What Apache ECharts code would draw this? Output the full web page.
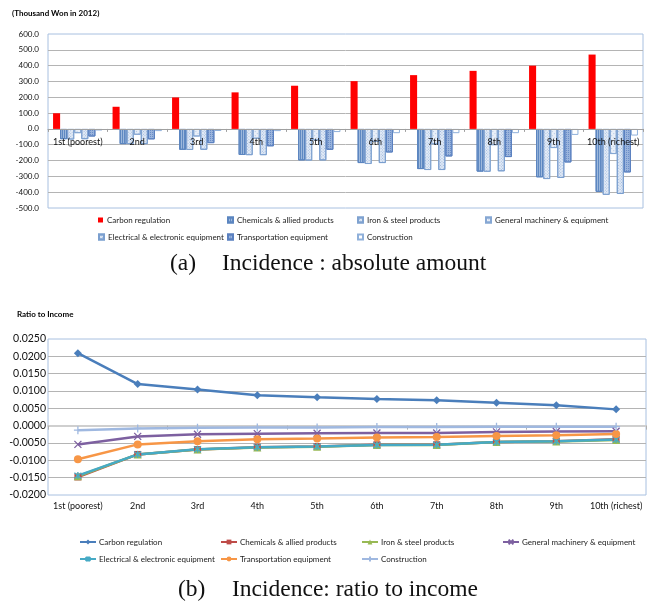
<!DOCTYPE html>
<html>
<head>
<meta charset="utf-8">
<script src="https://cdn.jsdelivr.net/npm/echarts@6/dist/echarts.min.js"></script>
<style>
  html, body { margin: 0; padding: 0; background: #fff; width: 647px; height: 605px; overflow: hidden; }
  #amount { position: absolute; left: 0; top: 0; width: 647px; height: 285px; }
  #ratio  { position: absolute; left: 0; top: 285px; width: 647px; height: 320px; }
</style>
</head>
<body>
<div id="amount"></div>
<div id="ratio"></div>
<script>
// Income deciles
const deciles = ['1st (poorest)', '2nd', '3rd', '4th', '5th', '6th', '7th', '8th', '9th', '10th (richest)'];
const sectors = ['Carbon regulation', 'Chemicals & allied products', 'Iron & steel products',
  'General machinery & equipment', 'Electrical & electronic equipment', 'Transportation equipment', 'Construction'];

// (a) Incidence, thousand won in 2012
const carbonAmt       = [99, 140, 199, 231, 273, 302, 340, 367, 400, 470];
const chemicalsAmt    = [-65, -96, -132, -165, -199, -216, -254, -270, -306, -398];
const ironAmt         = [-67, -96, -133, -166, -200, -222, -260, -271, -317, -417];
const machineryAmt    = [-27, -37, -48, -62, -72, -82, -97, -103, -121, -159];
const electricalAmt   = [-65, -96, -132, -166, -199, -216, -260, -268, -310, -411];
const transportAmt    = [-48, -66, -90, -110, -132, -149, -174, -178, -212, -275];
const constructionAmt = [-10, -14, -13, -14, -20, -27, -27, -27, -38, -42];

// (b) Incidence, ratio to income
const carbonRatio       = [0.0209, 0.0120, 0.0104, 0.0088, 0.0082, 0.0077, 0.0073, 0.0066, 0.0059, 0.0047];
const chemicalsRatio    = [-0.0148, -0.0083, -0.0069, -0.0062, -0.0060, -0.0055, -0.0055, -0.0047, -0.0045, -0.0039];
const ironRatio         = [-0.0146, -0.0083, -0.0069, -0.0063, -0.0061, -0.0056, -0.0056, -0.0047, -0.0046, -0.0041];
const machineryRatio    = [-0.0054, -0.0031, -0.0025, -0.0023, -0.0022, -0.0021, -0.0021, -0.0018, -0.0017, -0.0016];
const electricalRatio   = [-0.0144, -0.0083, -0.0068, -0.0062, -0.0060, -0.0056, -0.0055, -0.0047, -0.0045, -0.0040];
const transportRatio    = [-0.0097, -0.0054, -0.0045, -0.0039, -0.0037, -0.0034, -0.0033, -0.0030, -0.0028, -0.0024];
const constructionRatio = [-0.0013, -0.0008, -0.0006, -0.0005, -0.0005, -0.0004, -0.0004, -0.0003, -0.0003, -0.0003];

// Value axis ranges: [min, max, interval]
const amountTicks = [-500, 600, 100];
const ratioTicks  = [-0.02, 0.025, 0.005];

const SANS = 'Lato';
const SERIF = 'Liberation Serif';
const CAPTION_FONT = '23.5px "' + SERIF + '"';

// Distance (px) from the bottom of a plot of height h up to the value 0
function zeroLift(h, ticks) {
  return h * (0 - ticks[0]) / (ticks[1] - ticks[0]);
}

// ---------- (a) absolute amount: grouped bars ----------
const AMOUNT_H = 174;
const barStyles = [
  { color: '#ff0000' },
  { color: '#9db8dc', borderColor: '#5b85c0', borderWidth: 1,
    decal: { symbol: 'rect', symbolSize: 1, color: '#5f89c2', dashArrayX: [1, 1], dashArrayY: [2, 0] } },
  { color: '#e6edf7', borderColor: '#7fa2d0', borderWidth: 1,
    decal: { symbol: 'rect', symbolSize: 1, color: '#a4bde0', dashArrayX: [1, 1], dashArrayY: [1, 1], rotation: Math.PI / 4 } },
  { color: '#e9eff8', borderColor: '#86a7d3', borderWidth: 1,
    decal: { symbol: 'rect', symbolSize: 1, color: '#b3c8e6', dashArrayX: [1, 2], dashArrayY: [1, 2], rotation: -Math.PI / 4 } },
  { color: '#e3ebf6', borderColor: '#7b9fcf', borderWidth: 1,
    decal: { symbol: 'rect', symbolSize: 1, color: '#9fb9de', dashArrayX: [1, 1], dashArrayY: [1, 1], rotation: -Math.PI / 4 } },
  { color: '#9ab4dc', borderColor: '#5a80c0', borderWidth: 1,
    decal: { symbol: 'rect', symbolSize: 1, color: '#6b8ec8', dashArrayX: [1, 1], dashArrayY: [1, 1] } },
  { color: '#ffffff', borderColor: '#8fb0da', borderWidth: 1 }
];
const amountData = [carbonAmt, chemicalsAmt, ironAmt, machineryAmt, electricalAmt, transportAmt, constructionAmt];

const amountLegendPos = [[98, 216], [227, 216], [357, 216], [485, 216], [98, 233], [227, 233], [357, 233]];

const amountChart = echarts.init(document.getElementById('amount'));
amountChart.setOption({
  animation: false,
  textStyle: { fontFamily: SANS },
  title: [
    { text: '(Thousand Won in 2012)', left: 12, top: 9, padding: 0,
      textStyle: { fontFamily: SANS, fontSize: 8, fontWeight: 'bold', color: '#000' } }
  ],
  legend: sectors.map((name, i) => ({
    data: [name], left: amountLegendPos[i][0], top: amountLegendPos[i][1], padding: 0,
    icon: 'rect', itemWidth: 5, itemHeight: 5, itemGap: 0, selectedMode: false,
    textStyle: { fontFamily: SANS, fontSize: 8, color: '#222', padding: [0, 0, 0, -1] }
  })),
  grid: { left: 48, top: 34, width: 595, height: AMOUNT_H, show: true, borderColor: '#a8c0e0', borderWidth: 1 },
  xAxis: {
    type: 'category', data: deciles, z: 10, position: 'bottom',
    offset: -zeroLift(AMOUNT_H, amountTicks),
    axisLine: { onZero: false, lineStyle: { color: '#a0a0a0', width: 1 } },
    axisTick: { show: true, length: 3, lineStyle: { color: '#a0a0a0' } },
    axisLabel: { interval: 0, fontFamily: SANS, fontSize: 9, color: '#111', margin: 9 }
  },
  yAxis: {
    type: 'value', min: amountTicks[0], max: amountTicks[1], interval: amountTicks[2],
    axisLine: { show: false }, axisTick: { show: false },
    axisLabel: { formatter: v => v.toFixed(1), fontFamily: SANS, fontSize: 8, color: '#111', margin: 9 },
    splitLine: { lineStyle: { color: '#b4b4b4', width: 1 }, showMaxLine: false, showMinLine: false }
  },
  series: sectors.map((name, i) => ({
    name, type: 'bar', data: amountData[i],
    barGap: '0%', barCategoryGap: '17%',
    itemStyle: barStyles[i]
  })),
  graphic: [
    { type: 'text', left: 170, top: 252, style: { text: '(a)', font: CAPTION_FONT, fill: '#111' } },
    { type: 'text', left: 222, top: 252, style: { text: 'Incidence : absolute amount', font: CAPTION_FONT, fill: '#111' } }
  ]
});

// ---------- (b) ratio to income: lines ----------
const RATIO_H = 156;
const X_MARK = 'path://M0,0L10,10M10,0L0,10';
const STAR_MARK = 'path://M0,0L10,10M10,0L0,10M5,-1L5,11';
const PLUS_MARK = 'path://M5,0L5,10M0,5L10,5';
const lineStyles = [
  { color: '#4a7ebb', symbol: 'diamond', size: 8 },
  { color: '#be4b48', symbol: 'rect', size: 7 },
  { color: '#98b954', symbol: 'triangle', size: 8 },
  { color: '#7d60a0', symbol: X_MARK, size: 7, stroke: true },
  { color: '#46aac5', symbol: STAR_MARK, size: 7, stroke: true },
  { color: '#f79646', symbol: 'circle', size: 8 },
  { color: '#9fb8e0', symbol: PLUS_MARK, size: 8, stroke: true }
];
const ratioData = [carbonRatio, chemicalsRatio, ironRatio, machineryRatio, electricalRatio, transportRatio, constructionRatio];
const ratioLegendPos = [[79, 253], [220, 253], [361, 253], [502, 253], [79, 270], [220, 270], [361, 270]];

const ratioChart = echarts.init(document.getElementById('ratio'));
ratioChart.setOption({
  animation: false,
  textStyle: { fontFamily: SANS },
  title: [
    { text: 'Ratio to Income', left: 17, top: 25, padding: 0,
      textStyle: { fontFamily: SANS, fontSize: 8, fontWeight: 'bold', color: '#000' } }
  ],
  legend: sectors.map((name, i) => ({
    data: [name], left: ratioLegendPos[i][0], top: ratioLegendPos[i][1], padding: 0,
    itemWidth: 16, itemHeight: 6, itemGap: 0, selectedMode: false,
    textStyle: { fontFamily: SANS, fontSize: 8, color: '#222', padding: [0, 0, 0, -2] }
  })),
  grid: { left: 48, top: 54, width: 598, height: RATIO_H, show: true, borderColor: '#a8c0e0', borderWidth: 1 },
  xAxis: [
    { type: 'category', data: deciles, position: 'bottom', z: 1,
      offset: -zeroLift(RATIO_H, ratioTicks),
      axisLine: { onZero: false, lineStyle: { color: '#cfcfcf', width: 2 } },
      axisTick: { show: true, length: 4, lineStyle: { color: '#b0b0b0' } },
      axisLabel: { show: false } },
    { type: 'category', data: deciles, position: 'bottom',
      axisLine: { show: false, onZero: false }, axisTick: { show: false },
      axisLabel: { interval: 0, fontFamily: SANS, fontSize: 9, color: '#111', margin: 7 } }
  ],
  yAxis: {
    type: 'value', min: ratioTicks[0], max: ratioTicks[1], interval: ratioTicks[2],
    axisLine: { show: false }, axisTick: { show: false },
    axisLabel: { formatter: v => v.toFixed(4), fontFamily: SANS, fontSize: 10.5, color: '#111', margin: 2 },
    splitLine: { lineStyle: { color: '#b4b4b4', width: 1 }, showMaxLine: false, showMinLine: false }
  },
  series: sectors.map((name, i) => {
    const s = lineStyles[i];
    return {
      name, type: 'line', xAxisIndex: 0, data: ratioData[i],
      symbol: s.symbol, symbolSize: s.size,
      lineStyle: { color: s.color, width: 2.5 },
      itemStyle: s.stroke
        ? { color: s.color, borderColor: s.color, borderWidth: 1.3 }
        : { color: s.color, borderColor: s.color, borderWidth: 0 }
    };
  }),
  graphic: [
    { type: 'text', left: 178, top: 293, style: { text: '(b)', font: CAPTION_FONT, fill: '#111' } },
    { type: 'text', left: 232, top: 293, style: { text: 'Incidence: ratio to income', font: CAPTION_FONT, fill: '#111' } }
  ]
});
</script>
</body>
</html>
